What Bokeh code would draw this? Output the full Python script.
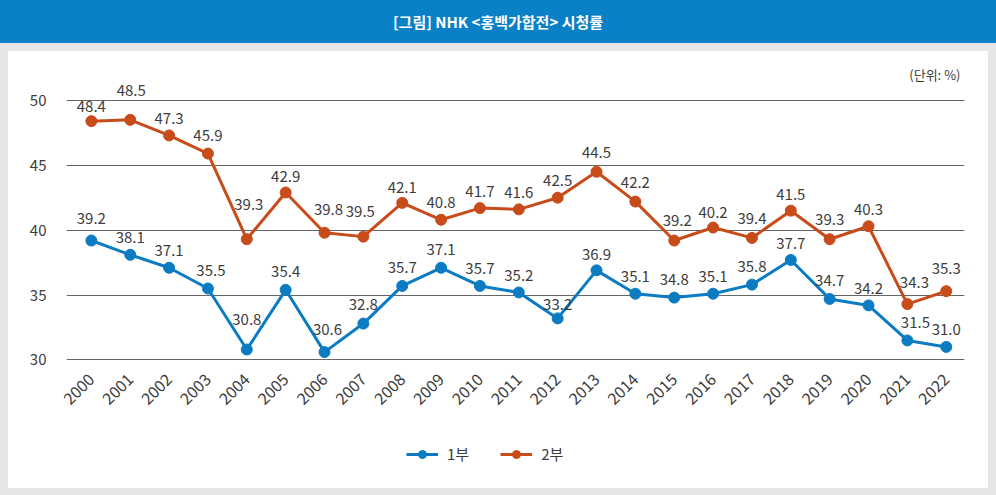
from bokeh.plotting import figure
from bokeh.models import (Range1d, FixedTicker, Legend, LegendItem, Title, Div,
                          ColumnDataSource)
from bokeh.layouts import column
from bokeh.core.properties import value
from bokeh.embed import file_html
from bokeh.resources import INLINE
import math

years = list(range(2000, 2023))
year_labels = [str(y) for y in years]
part1 = [39.2, 38.1, 37.1, 35.5, 30.8, 35.4, 30.6, 32.8, 35.7, 37.1, 35.7, 35.2,
         33.2, 36.9, 35.1, 34.8, 35.1, 35.8, 37.7, 34.7, 34.2, 31.5, 31.0]
part2 = [48.4, 48.5, 47.3, 45.9, 39.3, 42.9, 39.8, 39.5, 42.1, 40.8, 41.7, 41.6,
         42.5, 44.5, 42.2, 39.2, 40.2, 39.4, 41.5, 39.3, 40.3, 34.3, 35.3]
series_names = ["1부", "2부"]
y_ticks = [30, 35, 40, 45, 50]
title_text = "[그림] NHK &lt;홍백가합전&gt; 시청률"
unit_text = "(단위: %)"

# label placement (screen px offsets from each point), styling only
label_dy1 = [-22, -17, -17, -18, -30, -18, -23, -19, -18, -18, -17, -17,
             -14, -16, -17, -18, -17, -18, -16, -18, -17, -18, -17]
label_dx1 = [0, 0, 0, 3, 0, 0, 3, 0, 0, 0, 0, 0,
             0, 0, 0, 0, 0, 0, 0, 0, 0, 8, 0]
label_dy2 = [-15, -29, -17, -18, -35, -16, -23, -25, -15, -17, -17, -17,
             -17, -19, -19, -20, -15, -19, -16, -20, -17, -22, -23]
label_dx2 = [0, 1, 0, 0, 2, 0, 4, -3, 0, 0, 0, 0,
             0, 0, 0, 3, 0, 0, 0, 0, 0, 7, 0]

BLUE = "#0b7cc1"
ORANGE = "#c84b1a"
TXT = "#3c3c3c"
FONT = "Noto Sans CJK KR"

p = figure(width=980, height=371, output_backend="svg", toolbar_location=None,
           x_range=Range1d(1999.36, 2022.47), y_range=Range1d(29.8, 51.3),
           min_border_left=58, min_border_right=24, min_border_top=32,
           min_border_bottom=60, border_fill_color="white",
           background_fill_color="white", outline_line_color=None)
p.margin = (0, 0, 0, 0)

p.xaxis.ticker = FixedTicker(ticks=years)
p.xaxis.major_label_overrides = {y: l for y, l in zip(years, year_labels)}
p.xaxis.major_label_orientation = math.pi / 4
p.xaxis.axis_line_color = None
p.xaxis.major_tick_line_color = None
p.xaxis.minor_tick_line_color = None
p.xaxis.major_label_text_font = FONT
p.xaxis.major_label_text_font_size = "16px"
p.xaxis.major_label_text_color = TXT
p.xaxis.major_label_standoff = 8

p.yaxis.ticker = FixedTicker(ticks=y_ticks)
p.yaxis.axis_line_color = None
p.yaxis.major_tick_line_color = None
p.yaxis.minor_tick_line_color = None
p.yaxis.major_label_text_font = FONT
p.yaxis.major_label_text_font_size = "15px"
p.yaxis.major_label_text_color = TXT
p.yaxis.major_label_standoff = 14

p.xgrid.grid_line_color = None
p.ygrid.ticker = FixedTicker(ticks=y_ticks)
p.ygrid.grid_line_color = "#666666"
p.ygrid.grid_line_width = 1

src = ColumnDataSource(dict(x=years, y1=part1, y2=part2,
                            t1=[f"{v:.1f}" for v in part1],
                            t2=[f"{v:.1f}" for v in part2],
                            dy1=label_dy1, dx1=label_dx1,
                            dy2=label_dy2, dx2=label_dx2))

p.line("x", "y1", source=src, line_color=BLUE, line_width=3)
p.scatter("x", "y1", source=src, size=11, fill_color=BLUE, line_color=BLUE)
p.line("x", "y2", source=src, line_color=ORANGE, line_width=3)
p.scatter("x", "y2", source=src, size=11, fill_color=ORANGE, line_color=ORANGE)

for ycol, tcol, dx, dy in (("y1", "t1", "dx1", "dy1"), ("y2", "t2", "dx2", "dy2")):
    p.text("x", ycol, text=tcol, source=src, text_align="center",
           text_baseline="middle", x_offset=dx, y_offset=dy,
           text_font=value(FONT), text_font_size="15px", text_color=TXT)

p.add_layout(Title(text=unit_text, align="right", text_font=FONT,
                   text_font_size="13px", text_font_style="normal",
                   text_color=TXT, standoff=0, offset=4), "above")

# legend strip (white) below the chart
pl = figure(width=980, height=66, output_backend="svg", toolbar_location=None,
            x_range=Range1d(0, 1), y_range=Range1d(0, 1),
            x_axis_type=None, y_axis_type=None, min_border=0,
            border_fill_color="white", background_fill_color="white",
            outline_line_color=None)
pl.margin = (0, 0, 0, 0)
nan = float("nan")
ll1 = pl.line(x=[nan], y=[nan], line_color=BLUE, line_width=3)
lc1 = pl.scatter(x=[nan], y=[nan], size=11, fill_color=BLUE, line_color=BLUE)
ll2 = pl.line(x=[nan], y=[nan], line_color=ORANGE, line_width=3)
lc2 = pl.scatter(x=[nan], y=[nan], size=11, fill_color=ORANGE, line_color=ORANGE)

legend = Legend(items=[LegendItem(label=series_names[0], renderers=[ll1, lc1]),
                       LegendItem(label=series_names[1], renderers=[ll2, lc2])],
                orientation="horizontal", location=(340, 24),
                padding=0, margin=0, spacing=31, label_standoff=9,
                glyph_width=32, glyph_height=20, label_text_font=FONT,
                label_text_font_size="15px", label_text_color=TXT,
                background_fill_alpha=0, border_line_color=None)
pl.add_layout(legend, "center")

header = Div(text=title_text, width=996, height=43, margin=(0, 0, 0, 0),
             styles={"background-color": "#0a80c6", "color": "white",
                     "font-weight": "bold", "font-size": "15px",
                     "font-family": FONT, "text-align": "center",
                     "line-height": "43px", "width": "996px"})

inner = column(p, pl, spacing=0, styles={"background-color": "white"},
               margin=(8, 8, 7, 8))
body = column(inner, spacing=0, styles={"background-color": "#e6e6e6"},
              margin=(0, 0, 0, 0))
layout = column(header, body, spacing=0, margin=(0, 0, 0, 0))

open("out.html", "w").write(file_html(layout, INLINE))
